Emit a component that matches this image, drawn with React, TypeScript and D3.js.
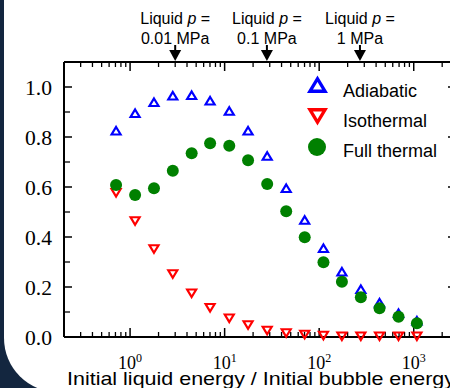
import * as d3 from "d3";

const energyRatio = [0.711, 1.13, 1.79, 2.83, 4.48, 7.02, 11.2, 17.7, 28.2, 44.8, 70.3, 111, 174, 276, 435, 691, 1081];
const adiabatic = [0.825, 0.895, 0.939, 0.965, 0.967, 0.945, 0.904, 0.825, 0.724, 0.595, 0.468, 0.355, 0.261, 0.191, 0.137, 0.095, 0.065];
const isothermal = [0.577, 0.464, 0.352, 0.252, 0.175, 0.117, 0.075, 0.048, 0.026, 0.016, 0.01, 0.006, 0.003, 0.003, 0.003, 0.003, 0.003];
const fullThermal = [0.608, 0.568, 0.595, 0.665, 0.735, 0.775, 0.765, 0.707, 0.612, 0.503, 0.399, 0.299, 0.221, 0.159, 0.115, 0.081, 0.055];

const yTicks = [0, 0.2, 0.4, 0.6, 0.8, 1.0];
const yMinor = [0.1, 0.3, 0.5, 0.7, 0.9];
const xDecades = [1, 10, 100, 1000];
const xExponents = ["0", "1", "2", "3"];

const pressureAt = [3, 28, 270];
const pressureLabels = ["0.01 MPa", "0.1 MPa", "1 MPa"];

const legendNames = ["Adiabatic", "Isothermal", "Full thermal"];

const W = 450;
const H = 388;
const SANS = "'Liberation Sans', Arial, sans-serif";
const SERIF = "'Liberation Serif', 'Times New Roman', serif";

const tri = (w: number, h: number, up: boolean) =>
  up
    ? `M0,${-h / 2}L${w / 2},${h / 2}L${-w / 2},${h / 2}Z`
    : `M0,${h / 2}L${w / 2},${-h / 2}L${-w / 2},${-h / 2}Z`;

export default function App() {
  const x = d3.scaleLog().domain([0.2, 2800]).range([64, 456]);
  const y = d3.scaleLinear().domain([0, 1.1]).range([337, 62]);
  const [x0, x1] = x.range();
  const [yb, yt] = y.range();

  // minor ticks 2..9 in every decade that falls inside the domain
  const minorX: number[] = [];
  for (const dec of [0.1, 1, 10, 100, 1000]) {
    for (let k = 2; k <= 9; k++) {
      const v = dec * k;
      if (v > 0.2 && v < 2800) minorX.push(v);
    }
  }

  const upPath = tri(9, 7.5, true);
  const downPath = tri(9, 7.5, false);

  return (
    <svg width={W} height={H} style={{ position: "absolute", left: 0, top: 0 }}>
      <rect x={0} y={0} width={W} height={H} fill="#13263f" />
      <rect x={4} y={-80} width={520} height={472} rx={54} ry={54} fill="#ffffff" />

      {/* pressure annotations */}
      {pressureAt.map((v, i) => (
        <g key={i} transform={`translate(${x(v)},0)`}>
          <text x={0} y={24} textAnchor="middle" fontFamily={SANS} fontSize={16} fill="#000">
            Liquid <tspan fontStyle="italic">p</tspan> =
          </text>
          <text x={0} y={43.5} textAnchor="middle" fontFamily={SANS} fontSize={16} fill="#000">
            {pressureLabels[i]}
          </text>
          <line x1={0} x2={0} y1={45} y2={52} stroke="#000" strokeWidth={2} />
          <path d={`M-6,50L6,50L0,61Z`} fill="#000" />
        </g>
      ))}

      {/* frame */}
      <g stroke="#000" fill="none">
        <line x1={x0} x2={x1} y1={yb} y2={yb} strokeWidth={2} />
        <line x1={x0} x2={x1} y1={yt} y2={yt} strokeWidth={2} />
        <line x1={x0} x2={x0} y1={yt} y2={yb} strokeWidth={2} />
        <line x1={x1} x2={x1} y1={yt} y2={yb} strokeWidth={2} />
        {xDecades.map((v) => (
          <g key={v}>
            <line x1={x(v)} x2={x(v)} y1={yb} y2={yb - 9} strokeWidth={1.5} />
            <line x1={x(v)} x2={x(v)} y1={yt} y2={yt + 9} strokeWidth={1.5} />
          </g>
        ))}
        {minorX.map((v) => (
          <g key={v}>
            <line x1={x(v)} x2={x(v)} y1={yb} y2={yb - 5} strokeWidth={1.3} />
            <line x1={x(v)} x2={x(v)} y1={yt} y2={yt + 5} strokeWidth={1.3} />
          </g>
        ))}
        {yTicks.map((v) => (
          <g key={v}>
            <line x1={x0} x2={x0 + 8} y1={y(v)} y2={y(v)} strokeWidth={1.5} />
            <line x1={x1} x2={x1 - 8} y1={y(v)} y2={y(v)} strokeWidth={1.5} />
          </g>
        ))}
        {yMinor.map((v) => (
          <g key={v}>
            <line x1={x0} x2={x0 + 6} y1={y(v)} y2={y(v)} strokeWidth={1.3} />
            <line x1={x1} x2={x1 - 6} y1={y(v)} y2={y(v)} strokeWidth={1.3} />
          </g>
        ))}
      </g>

      {/* y tick labels */}
      {yTicks.map((v) => (
        <text key={v} x={52} y={y(v) + 7.5} textAnchor="end" fontFamily={SERIF} fontSize={20} textLength={27} lengthAdjust="spacingAndGlyphs" fill="#000">
          {v.toFixed(1)}
        </text>
      ))}

      {/* x tick labels */}
      {xDecades.map((v, i) => (
        <text key={v} x={x(v)} y={368.5} textAnchor="middle" fontFamily={SERIF} fontSize={18} fill="#000">
          10<tspan dy={-7} fontSize={12}>{xExponents[i]}</tspan>
        </text>
      ))}

      <text x={67} y={385} fontFamily={SANS} fontSize={19} textLength={388} lengthAdjust="spacingAndGlyphs" fill="#000">
        Initial liquid energy / Initial bubble energy
      </text>

      {/* series */}
      {isothermal.map((v, i) => (
        <path key={`i${i}`} d={downPath} transform={`translate(${x(energyRatio[i])},${y(v)})`} fill="none" stroke="#ff0000" strokeWidth={2.2} />
      ))}
      {adiabatic.map((v, i) => (
        <path key={`a${i}`} d={upPath} transform={`translate(${x(energyRatio[i])},${y(v)})`} fill="none" stroke="#0000ff" strokeWidth={2.2} />
      ))}
      {fullThermal.map((v, i) => (
        <circle key={`f${i}`} cx={x(energyRatio[i])} cy={y(v)} r={6} fill="#008000" />
      ))}

      {/* legend */}
      <g>
        <path d={tri(15, 12.5, true)} transform="translate(317.5,85)" fill="none" stroke="#0000ff" strokeWidth={3.4} />
        <path d={tri(15, 12.5, false)} transform="translate(317.5,116)" fill="none" stroke="#ff0000" strokeWidth={3.4} />
        <circle cx={317} cy={147} r={9} fill="#008000" />
        {legendNames.map((n, i) => (
          <text key={n} x={343} y={[96.5, 126.5, 157][i]} fontFamily={SANS} fontSize={18} fill="#000">
            {n}
          </text>
        ))}
      </g>
    </svg>
  );
}
